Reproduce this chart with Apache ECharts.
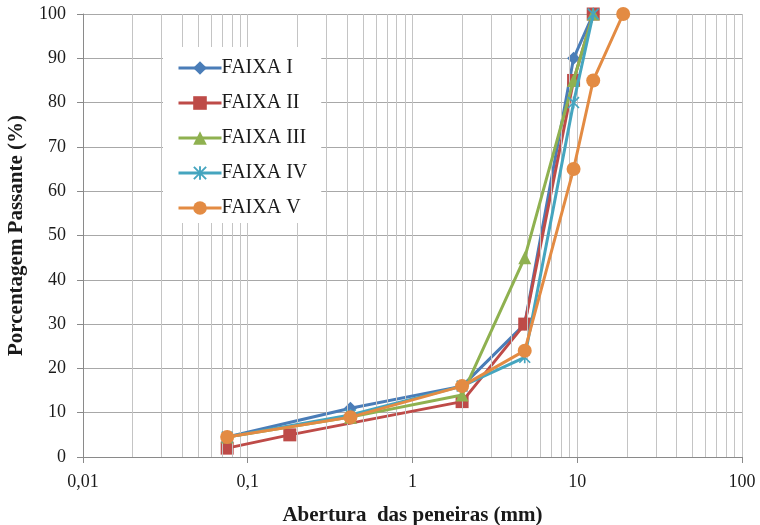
<!DOCTYPE html>
<html>
<head>
<meta charset="utf-8">
<script src="https://cdn.jsdelivr.net/npm/echarts@6/dist/echarts.min.js"></script>
<style>
  html, body { margin: 0; padding: 0; background: #ffffff; }
  #chart { width: 760px; height: 525px; }
</style>
</head>
<body>
<div id="chart"></div>
<script>
// Sieve openings (mm) and percent passing for each grading band
const faixaI   = [[0.075, 4.5], [0.42, 11], [2.0, 16], [4.8, 30], [9.5, 90], [12.5, 100]];
const faixaII  = [[0.075, 2], [0.18, 5], [2.0, 12.5], [4.8, 30], [9.5, 85], [12.5, 100]];
const faixaIII = [[0.075, 4.5], [0.42, 9], [2.0, 14], [4.8, 45], [9.5, 85], [12.5, 100]];
const faixaIV  = [[0.075, 4.5], [0.42, 9.5], [2.0, 16], [4.8, 22.5], [9.5, 80], [12.5, 100]];
const faixaV   = [[0.075, 4.5], [0.42, 9], [2.0, 16], [4.8, 24], [9.5, 65], [12.5, 85], [19, 100]];

const seriesNames = ['FAIXA I', 'FAIXA II', 'FAIXA III', 'FAIXA IV', 'FAIXA V'];
const xMin = 0.01, xMax = 100;
const yMin = 0, yMax = 100, yStep = 10;

// minor vertical grid lines at 2..9 of every decade
const minorGrid = [];
for (let d = xMin; d < xMax; d *= 10) {
  for (let k = 2; k <= 9; k++) minorGrid.push(Number((k * d).toPrecision(6)));
}

// asterisk marker (three crossed bars)
const starPath = 'path://M4.3,0 L5.7,0 L5.7,10 L4.3,10 Z M0,1 L1,0 L10,9 L9,10 Z M9,0 L10,1 L1,10 L0,9 Z';

const colors = ['#4A7DB8', '#BE4B48', '#8FB150', '#45A5BF', '#E38B43'];
const symbols = ['diamond', 'rect', 'triangle', starPath, 'circle'];
const sizes = [13, 13, 13, 12, 14];
const datasets = [faixaI, faixaII, faixaIII, faixaIV, faixaV];

const fontFam = '"Liberation Serif", "Times New Roman", serif';

const series = [{
  name: '__grid',
  type: 'line',
  data: [],
  silent: true,
  z: 1,
  markLine: {
    silent: true,
    symbol: 'none',
    animation: false,
    label: { show: false },
    lineStyle: { color: '#c4c4c4', width: 1, type: 'solid' },
    data: minorGrid.map(v => ({ xAxis: v }))
  }
}];

datasets.forEach((d, i) => {
  series.push({
    name: seriesNames[i],
    type: 'line',
    data: d,
    z: 3 + i,
    symbol: symbols[i],
    symbolSize: sizes[i],
    showAllSymbol: true,
    itemStyle: { color: colors[i], borderColor: colors[i], borderWidth: 0 },
    lineStyle: { color: colors[i], width: 3 },
    emphasis: { disabled: true },
    animation: false
  });
});

const chart = echarts.init(document.getElementById('chart'), null, { renderer: 'canvas' });
chart.setOption({
  backgroundColor: '#ffffff',
  animation: false,
  grid: { left: 83, right: 18, top: 14, bottom: 68, containLabel: false, outerBoundsMode: 'none' },
  legend: {
    data: seriesNames,
    orient: 'vertical',
    left: 163,
    top: 47,
    backgroundColor: '#ffffff',
    padding: [11, 14, 5, 14],
    itemWidth: 43,
    itemHeight: 17,
    itemGap: 15,
    lineStyle: { width: 3 },
    textStyle: { fontFamily: fontFam, fontSize: 20, color: '#1a1a1a', padding: [0, 0, 0, -5], lineHeight: 20 },
    z: 10
  },
  xAxis: {
    type: 'log',
    logBase: 10,
    min: xMin,
    max: xMax,
    name: 'Abertura  das peneiras (mm)',
    nameLocation: 'middle',
    nameGap: 48,
    nameTextStyle: { fontFamily: fontFam, fontSize: 21, fontWeight: 'bold', color: '#1a1a1a' },
    axisLine: { show: true, onZero: false, lineStyle: { color: '#8a8a8a', width: 1 } },
    axisTick: { show: true, length: 6, lineStyle: { color: '#8a8a8a' } },
    axisLabel: {
      fontFamily: fontFam, fontSize: 18, color: '#1a1a1a', margin: 16,
      formatter: v => String(Number(Number(v).toPrecision(6))).replace('.', ',')
    },
    splitLine: { show: true, lineStyle: { color: '#c4c4c4', width: 1 } }
  },
  yAxis: {
    type: 'value',
    min: yMin,
    max: yMax,
    interval: yStep,
    name: 'Porcentagem Passante (%)',
    nameLocation: 'middle',
    nameGap: 56,
    nameTextStyle: { fontFamily: fontFam, fontSize: 21, fontWeight: 'bold', color: '#1a1a1a' },
    axisLine: { show: true, lineStyle: { color: '#8a8a8a', width: 1 } },
    axisTick: { show: true, length: 6, lineStyle: { color: '#8a8a8a' } },
    axisLabel: { fontFamily: fontFam, fontSize: 18, color: '#1a1a1a', margin: 17 },
    splitLine: { show: true, lineStyle: { color: '#a8a8a8', width: 1 } }
  },
  series: series
});
</script>
</body>
</html>
